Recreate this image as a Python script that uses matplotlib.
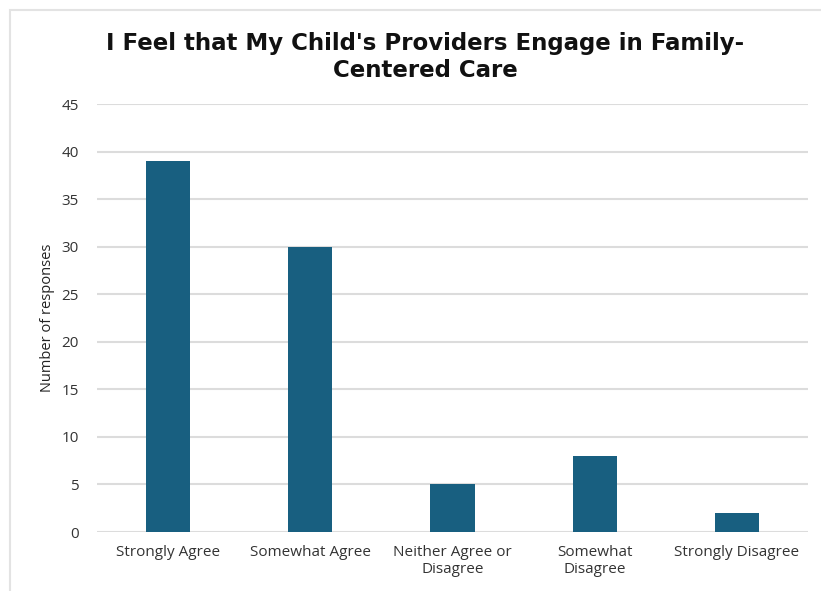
import matplotlib.pyplot as plt
from matplotlib.patches import Rectangle

categories = ['Strongly Agree', 'Somewhat Agree', 'Neither Agree or\nDisagree',
              'Somewhat\nDisagree', 'Strongly Disagree']
responses = [39, 30, 5, 8, 2]
yticks = list(range(0, 50, 5))

plt.rcParams['font.family'] = ['Open Sans', 'DejaVu Sans']

fig = plt.figure(figsize=(8.21, 5.91), dpi=100)
# outer chart border (light gray), right and bottom edges fall off the canvas
fig.patches.append(Rectangle((10 / 821, -0.1), 1.1, (591 - 10) / 591 + 0.1,
                             transform=fig.transFigure, fill=False,
                             edgecolor='#e3e3e3', linewidth=1.5))

ax = fig.add_axes([97 / 821, (591 - 532) / 591, (808 - 97) / 821, (532 - 104) / 591])
x = range(len(categories))
ax.bar(x, responses, width=0.31, color='#185f80', zorder=3)

ax.set_xlim(-0.5, len(categories) - 0.5)
ax.set_ylim(0, 45)
ax.set_yticks(yticks)
ax.set_xticks(list(x))
ax.set_xticklabels(categories, fontsize=11, color='#333333', linespacing=1.25)
ax.tick_params(axis='y', labelsize=11, labelcolor='#333333', length=0, pad=13)
ax.tick_params(axis='x', length=0, pad=9)
ax.grid(axis='y', color='#dcdcdc', linewidth=1.5, zorder=0)
for s in ax.spines.values():
    s.set_visible(False)

ax.set_ylabel('Number of responses', fontsize=10.5, color='#222222', labelpad=5)

fig.text(0.518, 1 - 57 / 591,
         "I Feel that My Child's Providers Engage in Family-\nCentered Care",
         ha='center', va='center', fontsize=16.5, fontweight='bold',
         family=['DejaVu Sans'], linespacing=1.2, color='#111111')

fig.savefig('out.png', dpi=100)
